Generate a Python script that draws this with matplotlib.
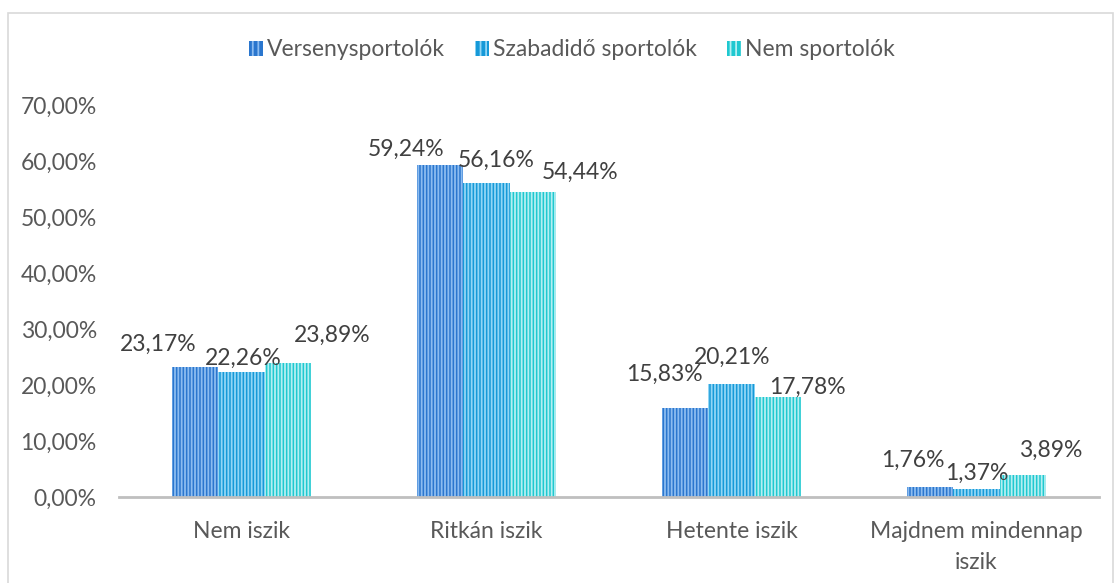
import matplotlib
matplotlib.use("Agg")
import matplotlib.pyplot as plt
from matplotlib.patches import Rectangle, Patch
import numpy as np

categories = ["Nem iszik", "Ritkán iszik", "Hetente iszik", "Majdnem mindennap\niszik"]
series_names = ["Versenysportolók", "Szabadidő sportolók", "Nem sportolók"]
verseny = [23.17, 59.24, 15.83, 1.76]
szabadido = [22.26, 56.16, 20.21, 1.37]
nem = [23.89, 54.44, 17.78, 3.89]
yticks = [0, 10, 20, 30, 40, 50, 60, 70]

series = [verseny, szabadido, nem]
base_colors = ["#2A76CE", "#1699D8", "#1FC8D0"]
stripe_colors = ["#8CBCF0", "#92D6F5", "#B4EFF2"]

# label offsets in pixels (dx, dy) relative to bar top centre, per category x series
label_offsets = [
    [(-37, 23), (2, 14), (44, 28)],
    [(-34, 16), (10, 22), (47, 20)],
    [(-21, 34), (1, 26), (29, 10)],
    [(-17, 27), (0, 16), (28, 25)],
]

plt.rcParams["font.family"] = ["Lato", "DejaVu Sans"]
plt.rcParams["hatch.linewidth"] = 1.3

FS = 16.5
W, H = 1114, 583
fig = plt.figure(figsize=(W / 100, H / 100), dpi=100)
ax = fig.add_axes([119 / W, 86 / H, (1099 - 119) / W, (497 - 105) / H])

x = np.arange(len(categories))
bw = 0.19
for i, vals in enumerate(series):
    xs = x + (i - 1) * bw
    ax.bar(xs, vals, width=bw, color=base_colors[i], edgecolor=stripe_colors[i],
           linewidth=0, hatch="|||||", zorder=2)
    for j, (bx, v) in enumerate(zip(xs, vals)):
        dx, dy = label_offsets[j][i]
        ax.annotate(f"{v:.2f}%".replace(".", ","), xy=(bx, v), xytext=(dx, dy),
                    textcoords="offset pixels", ha="center", va="center",
                    fontsize=FS, color="#404040", zorder=3)

ax.set_xlim(-0.5, len(categories) - 0.5)
ax.set_ylim(0, 70)
ax.set_yticks(yticks)
ax.set_yticklabels([f"{t:.2f}%".replace(".", ",") for t in yticks], fontsize=FS, color="#595959")
ax.set_xticks(x)
ax.set_xticklabels(categories, fontsize=FS, color="#595959", linespacing=1.6)
ax.tick_params(axis="both", length=0)
ax.tick_params(axis="y", pad=16)
ax.tick_params(axis="x", pad=17)
for s in ["top", "right", "left"]:
    ax.spines[s].set_visible(False)
ax.spines["bottom"].set_color("#BFBFBF")
ax.spines["bottom"].set_linewidth(2)
ax.spines["bottom"].set_zorder(4)

handles = [Patch(facecolor=base_colors[i], edgecolor=stripe_colors[i], linewidth=0, hatch="|||")
           for i in range(3)]
fig.legend(handles, series_names, loc="center", bbox_to_anchor=(572 / W, 1 - 50 / H), ncol=3,
           frameon=False, fontsize=FS, labelcolor="#595959", handlelength=0.6, handleheight=0.6,
           handletextpad=0.2, columnspacing=1.3)

fig.patches.append(Rectangle((8 / W, -0.05), (1113 - 8) / W, 1 - 13 / H + 0.05,
                             transform=fig.transFigure, fill=False, edgecolor="#D9D9D9",
                             linewidth=1.2))

fig.savefig("out.png", dpi=100)
